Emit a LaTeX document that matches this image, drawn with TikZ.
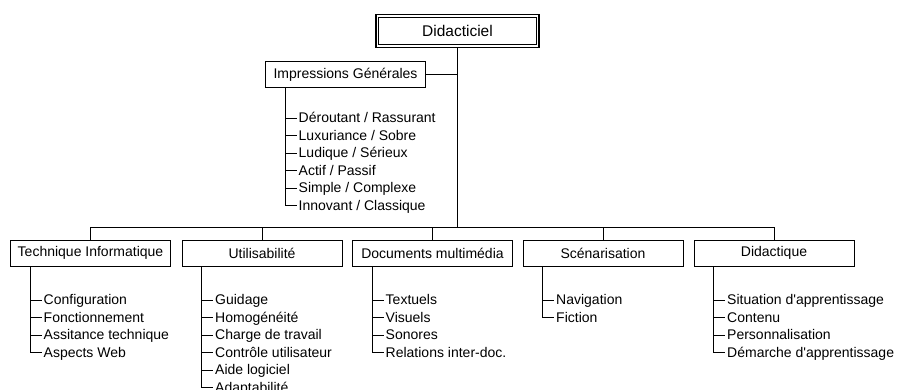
\documentclass[tikz,border=0pt]{standalone}
\usepackage{fontspec}
\newfontfamily\arialfont{Liberation Sans}
\usetikzlibrary{positioning}

\tikzset{
  rootbox/.style={draw, line width=1.6pt, minimum width=163pt, minimum height=33pt,
    font=\arialfont\fontsize{15.5}{18}\selectfont},
  catbox/.style={draw, line width=0.8pt, minimum width=160pt, minimum height=26pt,
    inner sep=4pt, font=\arialfont\fontsize{14}{16}\selectfont},
  item/.style={anchor=west, inner xsep=2pt, inner ysep=0pt, text height=9pt, text depth=0pt,
    font=\arialfont\fontsize{14}{16}\selectfont},
  link/.style={line width=0.8pt}
}

\begin{document}
\begin{tikzpicture}[x=1pt,y=-1pt]
    \useasboundingbox (0,0) rectangle (900,389);

    % root with double frame
    \node[rootbox] (root) at (457.5,30.8) {Didacticiel};
    \draw[line width=0.7pt] ([xshift=3.6pt,yshift=3.6pt]root.south west) rectangle ([xshift=-3.6pt,yshift=-3.6pt]root.north east);

    % categories
    \node[catbox] (impr) at (345.5,74.5) {Impressions Générales};
    \node[catbox] (tech) at (90.5,253) {Technique Informatique};
    \node[catbox] (util) at (262,253) {Utilisabilité};
    \node[catbox] (docs) at (432.5,253) {Documents multimédia};
    \node[catbox] (scen) at (603,253) {Scénarisation};
    \node[catbox] (dida) at (774,253) {Didactique};

    % tree lines
    \coordinate (bus) at (457.5,227);
    \draw[link] (root.south) -- (bus);
    \draw[link] (impr.east) -- (impr.east -| root.south);
    \draw[link] (tech.north |- bus) -- (dida.north |- bus);
    \foreach \c in {tech,util,docs,scen,dida}
        \draw[link] (\c.north) -- (\c.north |- bus);

    % sub-items of every category
    \foreach \c/\cx/\y/\items in {
        impr/345.5/118/{Déroutant / Rassurant,Luxuriance / Sobre,Ludique / Sérieux,Actif / Passif,Simple / Complexe,Innovant / Classique},
        tech/90.5/300/{Configuration,Fonctionnement,Assitance technique,Aspects Web},
        util/262/300/{Guidage,Homogénéité,Charge de travail,Contrôle utilisateur,Aide logiciel,Adaptabilité},
        docs/432.5/300/{Textuels,Visuels,Sonores,Relations inter-doc.},
        scen/603/300/{Navigation,Fiction},
        dida/774/300/{Situation d'apprentissage,Contenu,Personnalisation,Démarche d'apprentissage}}{
        \foreach \t [count=\i] in \items {
            \node[item] (\c-\i) at (\cx-49,\y+17.5*\i-17.5) {\t};
            \draw[link] ([xshift=20pt]\c.south west) |- (\c-\i.west);
        }
    }
\end{tikzpicture}
\end{document}
